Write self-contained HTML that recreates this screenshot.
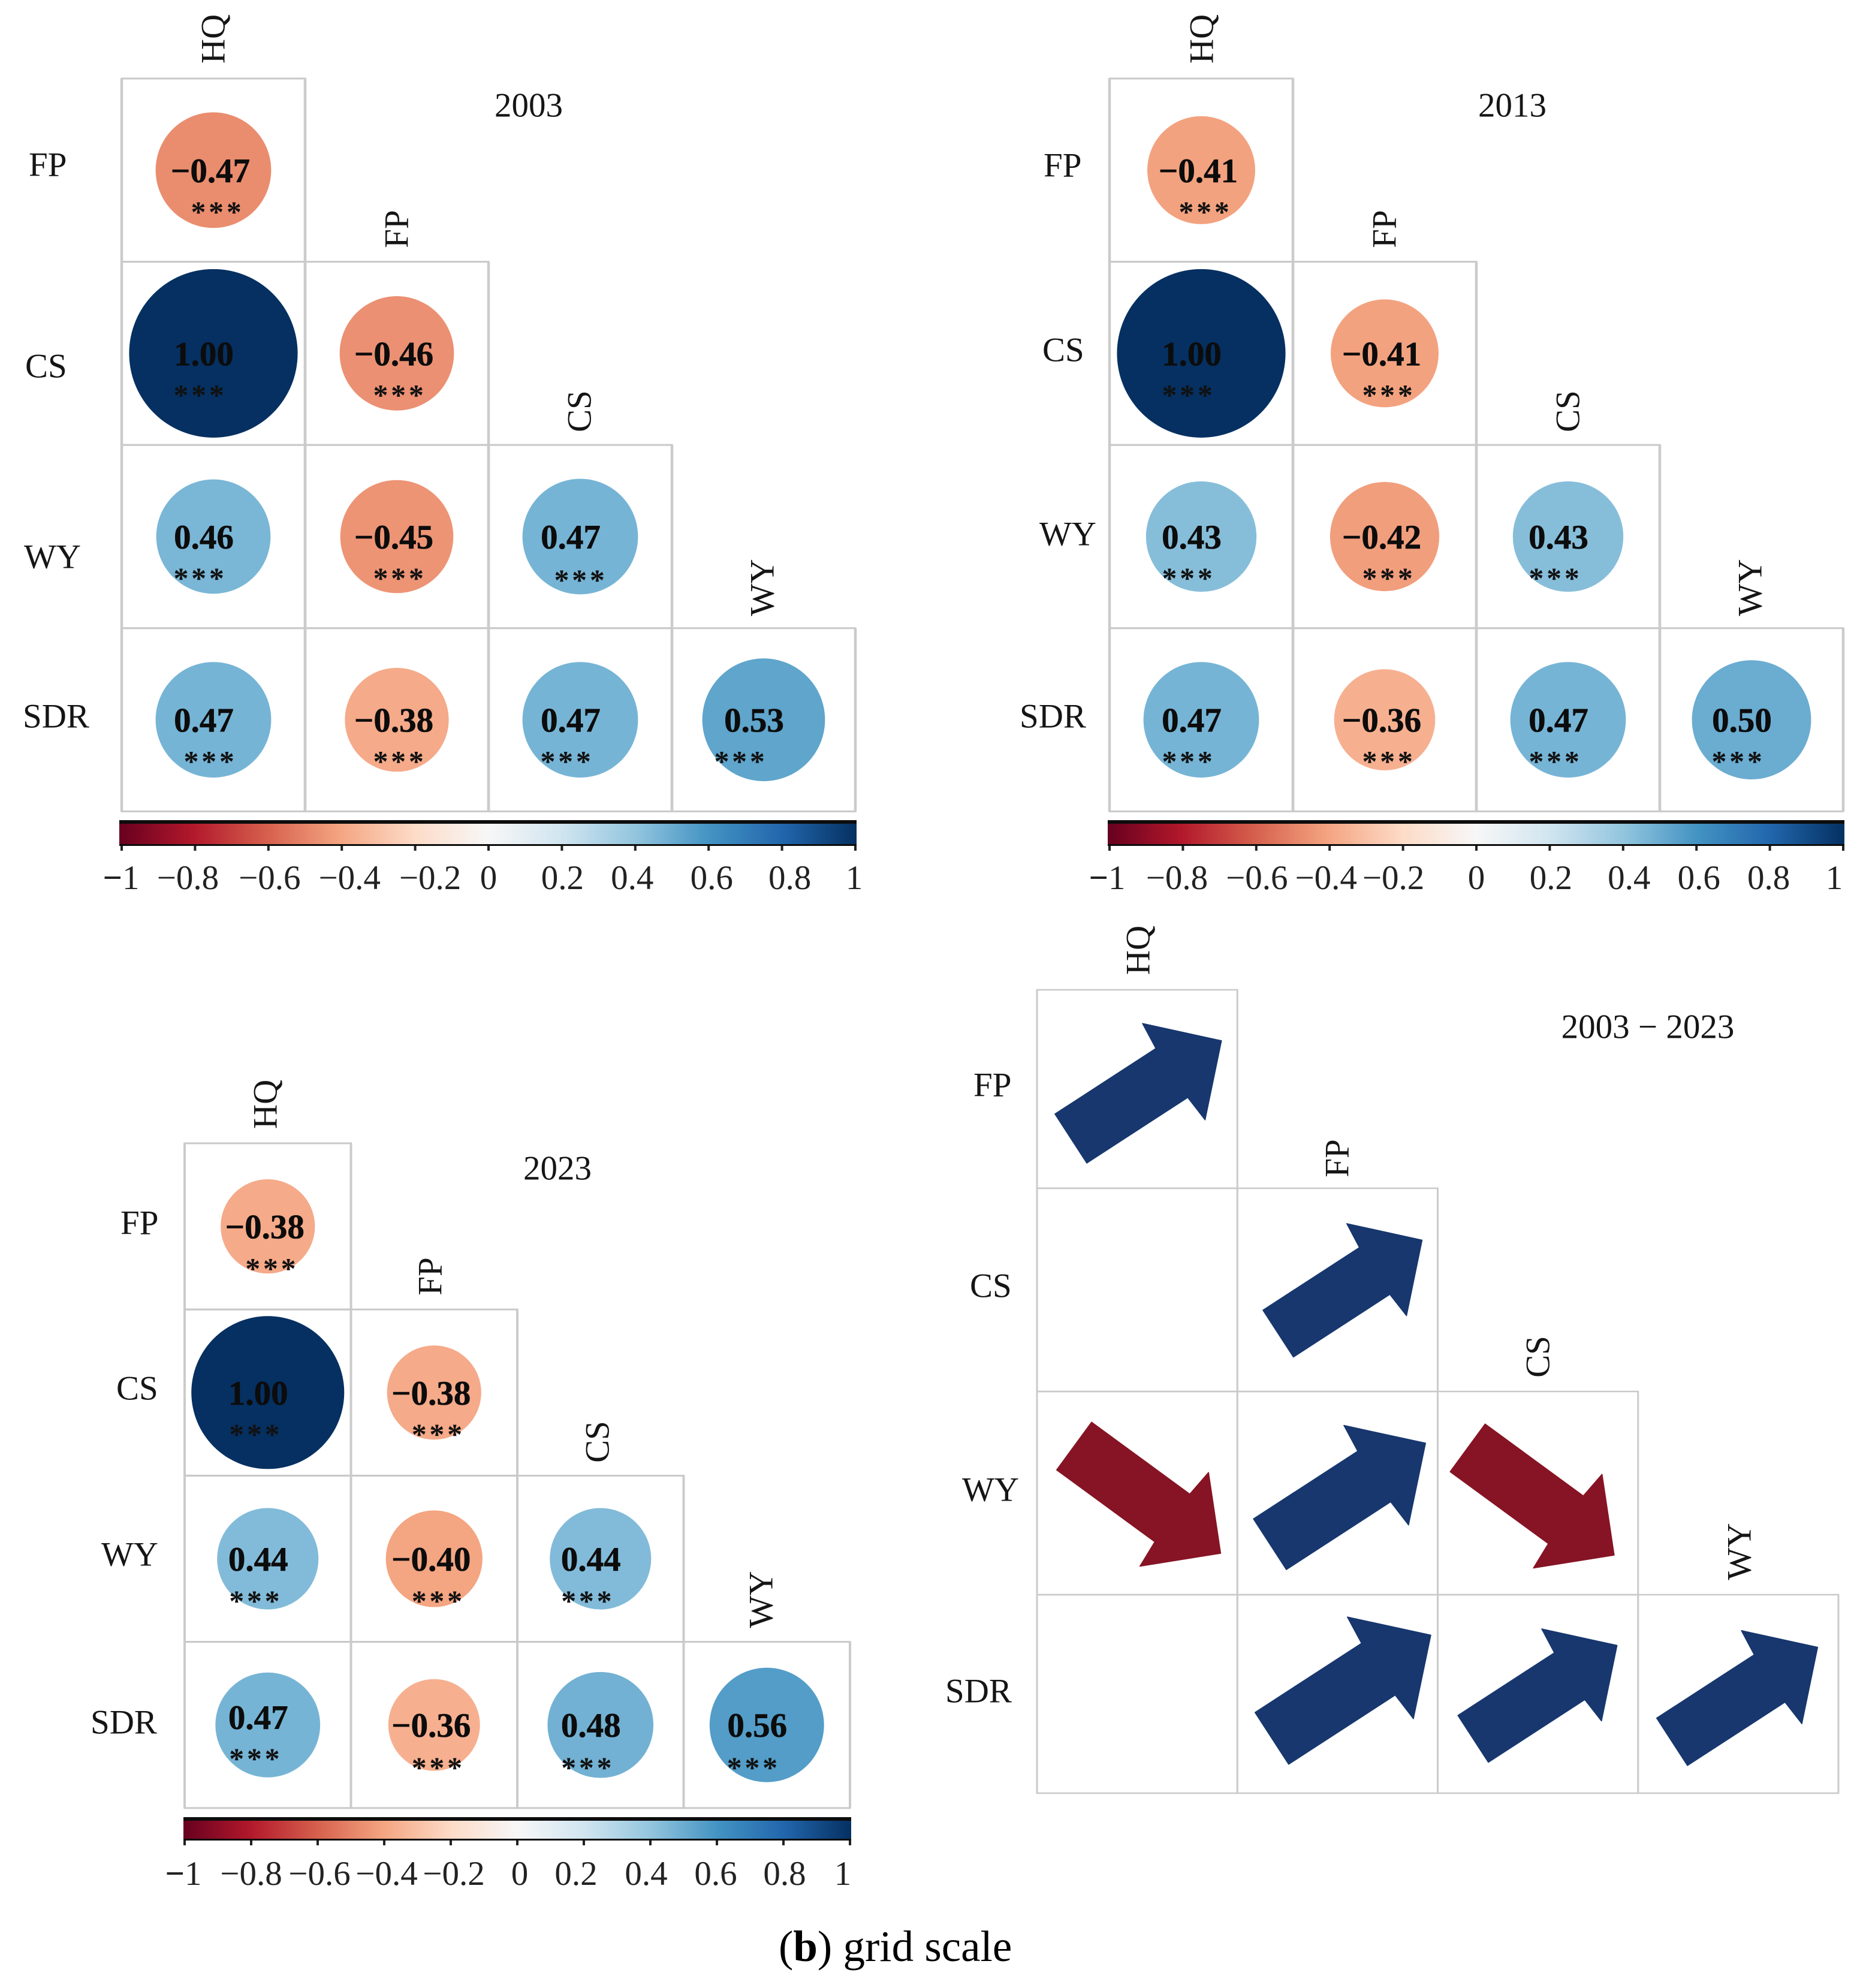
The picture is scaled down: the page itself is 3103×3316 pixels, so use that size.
<!DOCTYPE html>
<html lang="en">
<head>
<meta charset="utf-8">
<title>Correlation matrices at grid scale</title>
<style>
html,body{margin:0;padding:0;background:#fff;}
svg{display:block;font-family:"Liberation Serif",serif;}
</style>
</head>
<body>
<svg id="chart" xmlns="http://www.w3.org/2000/svg" width="3103" height="3316" viewBox="0 0 3103 3316">
<defs>
<linearGradient id="rdbu" x1="0" x2="1" y1="0" y2="0"></linearGradient>
</defs>
<rect width="3103" height="3316" fill="#ffffff"/>
<text x="1299" y="3271" font-size="73" fill="#000"><tspan>(</tspan><tspan font-weight="bold">b</tspan><tspan>) grid scale</tspan></text>
</svg>
<script>
// ---- data ----
const rowLabels = ["FP", "CS", "WY", "SDR"];
const colLabels = ["HQ", "FP", "CS", "WY"];
const colorbarTicks = [-1, -0.8, -0.6, -0.4, -0.2, 0, 0.2, 0.4, 0.6, 0.8, 1];
const values2003 = [[-0.47], [1.00, -0.46], [0.46, -0.45, 0.47], [0.47, -0.38, 0.47, 0.53]];
const values2013 = [[-0.41], [1.00, -0.41], [0.43, -0.42, 0.43], [0.47, -0.36, 0.47, 0.50]];
const values2023 = [[-0.38], [1.00, -0.38], [0.44, -0.40, 0.44], [0.47, -0.36, 0.48, 0.56]];
const trendSigns = [[1], [0, 1], [-1, 1, -1], [0, 1, 1, 1]];
const trendMagnitudes = [[0.90], [0, 0.86], [0.91, 0.93, 0.91], [0, 0.95, 0.86, 0.87]];
const rdbuColors = ["#67001f", "#b2182b", "#d6604d", "#f4a582", "#fddbc7", "#f7f7f7", "#d1e5f0", "#92c5de", "#4393c3", "#2166ac", "#053061"];

// ---- layout (not data) ----
const panelYear2003 = {
  name: "2003", values: values2003,
  x0: 203, cw: 306, y0: 131, ch: 305.6, vw: 4.5, hw: 3,
  bar: {x1: 199, x2: 1429, y1: 1368, y2: 1411}, tickLabelY: 1463,
  title: [882, 176],
  left: [[48, 275], [42, 611], [40, 929], [38, 1195]],
  top: [[356, 65], [662, 382], [967, 686], [1272, 980]],
  stars: [[[5, 64]], [[-24, 64], [3, 64]], [[-24, 64], [3, 64], [-1, 67]], [[-7, 64], [3, 64], [-24, 64], [-40, 64]]],
  tickNudge: [-1, -12, 2, 13, 25, 0, 1, -5, 5, 13, -2]
};
const panelYear2013 = {
  name: "2013", values: values2013,
  x0: 1851, cw: 306, y0: 131, ch: 305.6, vw: 4.5, hw: 3,
  bar: {x1: 1848, x2: 3077, y1: 1368, y2: 1411}, tickLabelY: 1463,
  title: [2523, 176],
  left: [[1741, 276], [1739, 584], [1734, 891], [1701, 1195]],
  top: [[2005, 65], [2310, 382], [2616, 686], [2920, 980]],
  stars: [[[5, 64]], [[-23, 64], [5, 64]], [[-23, 64], [5, 64], [-23, 64]], [[-23, 64], [5, 64], [-23, 64], [-24, 64]]],
  tickNudge: [-4, -10, 1, -6, -16, 0, 2, 10, 4, -2, -15]
};
const panelYear2023 = {
  name: "2023", values: values2023,
  x0: 308, cw: 277.5, y0: 1907, ch: 277.2, vw: 4, hw: 3,
  bar: {x1: 306, x2: 1420, y1: 3031, y2: 3070}, tickLabelY: 3124,
  title: [930, 1949],
  left: [[201, 2040], [194, 2316], [169, 2593], [151, 2873]],
  top: [[443, 1842], [718, 2129], [997, 2405], [1270, 2668]],
  stars: [[[5, 65]], [[-22, 64], [5, 64]], [[-22, 65], [5, 65], [-23, 65]], [[-22, 51], [5, 66], [-23, 66], [-24, 66]]],
  valueDy: {"3-0": -13},
  tickNudge: [-2, 0, 3, 4, 5, 4, -13, -7, -2, 2, -12]
};
const panelTrend = {
  x0: 1730, cw: 334.25, y0: 1651, ch: 335, vw: 3, hw: 2.5,
  rowEdges: [1651, 1982, 2321, 2660, 2991],
  title: [2749, 1713],
  left: [[1624, 1810], [1618, 2145], [1605, 2485], [1577, 2821]],
  top: [[1899, 1585], [2231, 1932], [2566, 2263], [2902, 2588]],
  arrowNudge: [[[15, 1]], [null, [21, -5]], [[17, 11], [17, 1], [5, 14]], [null, [23, -12], [12, -3], [11, 1]]]
};

// ---- helpers ----
const NS = "http://www.w3.org/2000/svg";
const root = document.getElementById("chart");
function make(tag, attrs, parent) {
  const n = document.createElementNS(NS, tag);
  for (const k in attrs) n.setAttribute(k, attrs[k]);
  (parent || root).appendChild(n);
  return n;
}
function hexToRgb(h) {
  return [parseInt(h.slice(1, 3), 16), parseInt(h.slice(3, 5), 16), parseInt(h.slice(5, 7), 16)];
}
function colorScale(v) {
  const t = Math.max(0, Math.min(1, (v + 1) / 2)) * (rdbuColors.length - 1);
  const i = Math.min(Math.floor(t), rdbuColors.length - 2);
  const f = t - i;
  const a = hexToRgb(rdbuColors[i]);
  const b = hexToRgb(rdbuColors[i + 1]);
  return "rgb(" + a.map((c, k) => Math.round(c + (b[k] - c) * f)).join(",") + ")";
}
function fmt(v) {
  return (v < 0 ? "\u2212" : "") + Math.abs(v).toFixed(2);
}
function colX(p, c) { return p.x0 + p.cw * (c + 0.5); }
function rowTop(p, r) { return p.rowEdges ? p.rowEdges[r] : p.y0 + p.ch * r; }
function rowBottom(p, r) { return p.rowEdges ? p.rowEdges[r + 1] : p.y0 + p.ch * (r + 1); }
function rowY(p, r) { return (rowTop(p, r) + rowBottom(p, r)) / 2; }
function radiusScale(p, v) { return Math.min(p.cw, p.ch) * 0.46 * Math.sqrt(Math.abs(v)); }

rdbuColors.forEach(function (c, i) {
  make("stop", {offset: (i / (rdbuColors.length - 1)), "stop-color": c}, document.getElementById("rdbu"));
});

const LABEL_SIZE = 57;
const LABEL_BASE = 18.5;

function drawFrameLabels(p, key, g) {
  const title = make("text", {x: p.title[0], y: p.title[1] + LABEL_BASE, "text-anchor": "middle", "font-size": 57, fill: "#151515"}, g);
  
  
  title.textContent = key === "trend" ? "2003 \u2212 2023" : key;

  rowLabels.forEach(function (lab, r) {
    const t = make("text", {x: p.left[r][0], y: p.left[r][1] + LABEL_BASE, "font-size": LABEL_SIZE, fill: "#151515"}, g);
    
    
    t.textContent = lab;
  });
  colLabels.forEach(function (lab, c) {
    const t = make("text", {transform: "translate(" + (p.top[c][0] + LABEL_BASE) + "," + p.top[c][1] + ") rotate(-90)", "text-anchor": "middle", "font-size": LABEL_SIZE, fill: "#151515"}, g);
    
    
    t.textContent = lab;
  });
}

function drawCell(p, r, c, key, g) {
  const x = p.x0 + p.cw * c;
  const y = rowTop(p, r);
  const h = rowBottom(p, r) - y;
  const cell = make("rect", {x: x, y: y, width: p.cw, height: h, fill: "none", stroke: "#c9c9c9", "stroke-width": p.hw}, g);
  
  
  const sides = make("path", {d: "M" + x + " " + y + "v" + h + "M" + (x + p.cw) + " " + y + "v" + h, fill: "none", stroke: "#cbcbcb", "stroke-width": p.vw}, g);
  
  
}

function drawCorrelationPanel(p) {
  const g = make("g", {});
  
  

  drawFrameLabels(p, p.name, g);

  p.values.forEach(function (row, r) {
    row.forEach(function (v, c) {
      drawCell(p, r, c, p.name, g);
    });
  });

  p.values.forEach(function (row, r) {
    row.forEach(function (v, c) {
      const cx = colX(p, c);
      const cy = rowY(p, r);
      const circle = make("circle", {cx: cx, cy: cy, r: radiusScale(p, v), fill: colorScale(v)}, g);
      
      

      const dx = v < 0 ? -5 : -16;
      const extra = (p.valueDy && p.valueDy[r + "-" + c]) || 0;
      const label = make("text", {x: cx + dx, y: cy + 20 + extra, "text-anchor": "middle", "font-size": 57, "font-weight": "bold", fill: "#0c0c0c", stroke: "#0c0c0c", "stroke-width": 0.6}, g);
      
      
      label.textContent = fmt(v);

      const s = p.stars[r][c];
      const stars = make("text", {x: cx + s[0] + 2, y: cy + s[1] + 22, "text-anchor": "middle", "font-size": 50, "font-weight": "bold", "letter-spacing": 4.7, fill: "#111"}, g);
      
      
      stars.textContent = "***";
    });
  });

  // colour bar
  const b = p.bar;
  const bar = make("rect", {x: b.x1, y: b.y1, width: b.x2 - b.x1, height: b.y2 - b.y1, fill: "url(#rdbu)"}, g);
  
  
  const topEdge = make("rect", {x: b.x1, y: b.y1, width: b.x2 - b.x1, height: 6, fill: "#0d0d0d"}, g);
  
  
  const bottomEdge = make("rect", {x: b.x1, y: b.y2 - 3, width: b.x2 - b.x1, height: 3, fill: "#0d0d0d"}, g);
  
  

  const tickX = function (v) { return p.x0 + (v + 1) / 2 * (p.cw * 4); };
  colorbarTicks.forEach(function (v, i) {
    const tx = tickX(v);
    const tick = make("line", {x1: tx, x2: tx, y1: b.y2, y2: b.y2 + 8, stroke: "#222", "stroke-width": 4}, g);
    
    
    const lab = make("text", {x: tx + p.tickNudge[i], y: p.tickLabelY + 20, "text-anchor": "middle", "font-size": 57, fill: "#222"}, g);
    
    
    if (v === -1) {
      const minus = make("tspan", {"font-weight": "bold"}, lab);
      minus.textContent = "\u2212";
      const digit = make("tspan", {}, lab);
      digit.textContent = "1";
    } else {
      lab.textContent = (v < 0 ? "\u2212" : "") + Math.abs(v);
    }
  });
}

function arrowPoints(L) {
  const tw = L * 0.163;
  const hw = L * 0.32;
  const hl = L * 0.33;
  const a = -L / 2;
  const e = L / 2;
  const n = e - hl;
  return [[a, -tw], [n, -tw], [n + 4, -hw], [e, 0], [n + 4, hw], [n, tw], [a, tw]].map(function (q) { return q.join(","); }).join(" ");
}

function drawTrendPanel(p) {
  const g = make("g", {});
  
  

  drawFrameLabels(p, "trend", g);

  trendSigns.forEach(function (row, r) {
    row.forEach(function (sign, c) {
      drawCell(p, r, c, "trend", g);
    });
  });

  trendSigns.forEach(function (row, r) {
    row.forEach(function (sign, c) {
      if (sign === 0) return;
      const L = trendMagnitudes[r][c] * 333;
      const nudge = p.arrowNudge[r][c];
      const cx = colX(p, c) + nudge[0];
      const cy = rowY(p, r) + nudge[1];
      const angle = sign > 0 ? -33 : 36.2;
      const arrow = make("polygon", {
        points: arrowPoints(L),
        transform: "translate(" + cx + "," + cy + ") rotate(" + angle + ")",
        fill: sign > 0 ? "#17376e" : "#861424",
        stroke: sign > 0 ? "#17376e" : "#861424",
        "stroke-width": 1.5,
        "stroke-linejoin": "round"
      }, g);
      
      
    });
  });
}

drawCorrelationPanel(panelYear2003);
drawCorrelationPanel(panelYear2013);
drawCorrelationPanel(panelYear2023);
drawTrendPanel(panelTrend);
</script>
</body>
</html>
